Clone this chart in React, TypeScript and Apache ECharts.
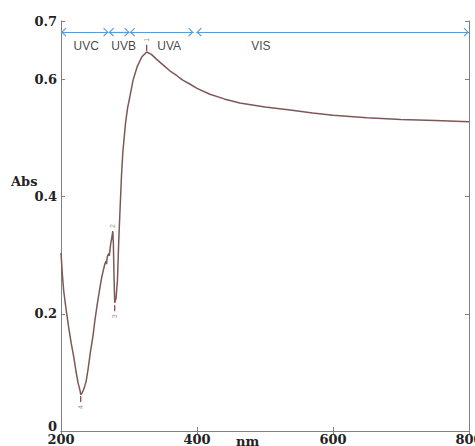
import React, { useEffect, useRef } from 'react';
import * as echarts from 'echarts';

const wavelengths = [
  200, 202, 204, 207, 211, 215, 219, 222, 225, 228, 229, 231, 233, 235, 237, 240, 243, 247, 250, 253,
  256, 258, 260, 262, 264, 266, 267, 268, 270, 271, 273, 275, 276, 277, 278, 279, 281, 283, 285, 287,
  289, 291, 295, 298, 301, 306, 312, 319, 326, 333, 341, 350, 360, 370, 379, 390, 400, 419, 440, 463,
  500, 537, 570, 600, 650, 700, 750, 800,
];
const absorbance = [
  0.304, 0.267, 0.239, 0.212, 0.179, 0.15, 0.125, 0.102, 0.083, 0.069, 0.062, 0.065, 0.07, 0.077, 0.085, 0.107, 0.133, 0.162, 0.19, 0.214,
  0.236, 0.25, 0.263, 0.273, 0.283, 0.29, 0.285, 0.297, 0.303, 0.299, 0.319, 0.332, 0.34, 0.322, 0.262, 0.219, 0.227, 0.257, 0.327, 0.383,
  0.437, 0.477, 0.527, 0.552, 0.569, 0.599, 0.622, 0.639, 0.647, 0.643, 0.634, 0.625, 0.615, 0.607, 0.599, 0.592, 0.585, 0.575, 0.567, 0.56,
  0.553, 0.548, 0.543, 0.539, 0.535, 0.532, 0.53, 0.528,
];

// Region annotations
const regionNames = ['UVC', 'UVB', 'UVA', 'VIS'];
const regionCenters = [237, 292, 359, 494];
const regionLabelAbs = 0.657;
const arrowStarts = [200, 270, 301, 399];
const arrowEnds = [270, 301, 395, 800];
const arrowAbs = 0.681;

// Peak markers
const peakNames = ['1', '2', '3', '4'];
const peakWavelengths = [326, 276, 279, 229];
const peakLabelAbs = [0.668, 0.35, 0.196, 0.041];

const BLUE = '#5b9bd5';

const App: React.FC = () => {
  const ref = useRef<HTMLDivElement>(null);
  useEffect(() => {
    if (!ref.current) return;
    const chart = echarts.init(ref.current, undefined, { renderer: 'svg' });
    const labelFont = {
      fontFamily: 'DejaVu Serif',
      fontWeight: 'bold' as const,
      fontSize: 13,
      color: '#222',
    };
    const axisLine = { show: true, lineStyle: { color: '#808080', width: 1 } };
    const axisTick = { show: true, inside: true, length: 4, lineStyle: { color: '#808080' } };
    chart.setOption({
      animation: false,
      backgroundColor: '#fff',
      grid: { left: 61, right: 6, top: 21, bottom: 15, containLabel: false, outerBoundsMode: 'none' },
      xAxis: [
        {
          type: 'value', min: 200, max: 800, interval: 200,
          axisLine, axisTick, splitLine: { show: false },
          axisLabel: { ...labelFont, margin: 2, alignMaxLabel: 'center', alignMinLabel: 'center' },
        },
        {
          type: 'value', position: 'top', min: 200, max: 800, interval: 200,
          axisLine, axisTick, splitLine: { show: false }, axisLabel: { show: false },
        },
      ],
      yAxis: [
        {
          type: 'value', min: 0, max: 0.7, interval: 0.2,
          axisLine, axisTick, splitLine: { show: false },
          axisLabel: {
            ...labelFont,
            margin: 4,
            formatter: (v: number) => (v === 0 ? '{z|0}' : String(v)),
            rich: { z: { ...labelFont, padding: [0, 0, 10, 0] } },
          },
        },
        {
          type: 'value', position: 'right', min: 0, max: 0.7, interval: 0.2,
          axisLine, axisTick, splitLine: { show: false }, axisLabel: { show: false },
        },
      ],
      graphic: [
        { id: 'abs', type: 'text', left: 11, top: 175, style: { text: 'Abs', font: 'bold 13px "DejaVu Serif"', fill: '#222' } },
        { id: 'nm', type: 'text', left: 236, top: 435, style: { text: 'nm', font: 'bold 13px "DejaVu Serif"', fill: '#222' } },
      ],
      series: [
        {
          type: 'line',
          data: wavelengths.map((w, i) => [w, absorbance[i]]),
          showSymbol: false,
          symbol: 'none',
          lineStyle: { color: '#7d5858', width: 1.5 },
          silent: true,
        },
        {
          type: 'scatter',
          data: peakWavelengths.map((w, i) => [w, peakLabelAbs[i], peakNames[i]]),
          symbolSize: 0,
          label: {
            show: true,
            formatter: (p: any) => p.data[2],
            rotate: 90,
            fontSize: 7,
            color: '#777',
            position: 'inside',
          },
          silent: true,
        },
        {
          type: 'scatter',
          data: regionCenters.map((w, i) => [w, regionLabelAbs, regionNames[i]]),
          symbolSize: 0,
          label: {
            show: true,
            position: 'inside',
            formatter: (p: any) => p.data[2],
            fontFamily: 'Liberation Sans',
            fontSize: 12,
            color: '#111',
          },
          silent: true,
          markLine: {
            silent: true,
            symbol: ['none', 'none'],
            label: { show: false },
            lineStyle: { color: BLUE, width: 1.2, type: 'solid' },
            data: arrowStarts.map((s, i) => [
              { coord: [s, arrowAbs] },
              { coord: [arrowEnds[i], arrowAbs] },
            ]),
          },
        },
      ],
    });

    // Chevron arrowheads, positioned through the axes' scales
    const toPx = (x: number, y: number) =>
      chart.convertToPixel({ xAxisIndex: 0, yAxisIndex: 0 }, [x, y]) as number[];
    const heads: any[] = [];
    const markStyle = { stroke: BLUE, lineWidth: 1.2, fill: 'none' };
    arrowStarts.forEach((s, i) => {
      const [sx, sy] = toPx(s, arrowAbs);
      const [ex, ey] = toPx(arrowEnds[i], arrowAbs);
      heads.push({
        id: 'hs' + i, type: 'polyline', silent: true,
        shape: { points: [[sx + 5, sy - 4], [sx + 1, sy], [sx + 5, sy + 4]] },
        style: markStyle,
      });
      heads.push({
        id: 'he' + i, type: 'polyline', silent: true,
        shape: { points: [[ex - 5, ey - 4], [ex - 1, ey], [ex - 5, ey + 4]] },
        style: markStyle,
      });
    });
    // small vertical marks at peak labels
    peakWavelengths.forEach((w, i) => {
      const [px, py] = toPx(w, peakLabelAbs[i]);
      const up = i < 2;
      heads.push({
        id: 'pm' + i, type: 'line', silent: true,
        shape: { x1: px, y1: up ? py + 5 : py - 5, x2: px, y2: up ? py + 11 : py - 11 },
        style: { stroke: '#8b3a3a', lineWidth: 1.2 },
      });
    });
    chart.setOption({ graphic: heads });
    return () => chart.dispose();
  }, []);
  return (
    <div
      ref={ref}
      style={{ position: 'absolute', left: 0, top: 0, width: 475, height: 446 }}
    />
  );
};

export default App;
